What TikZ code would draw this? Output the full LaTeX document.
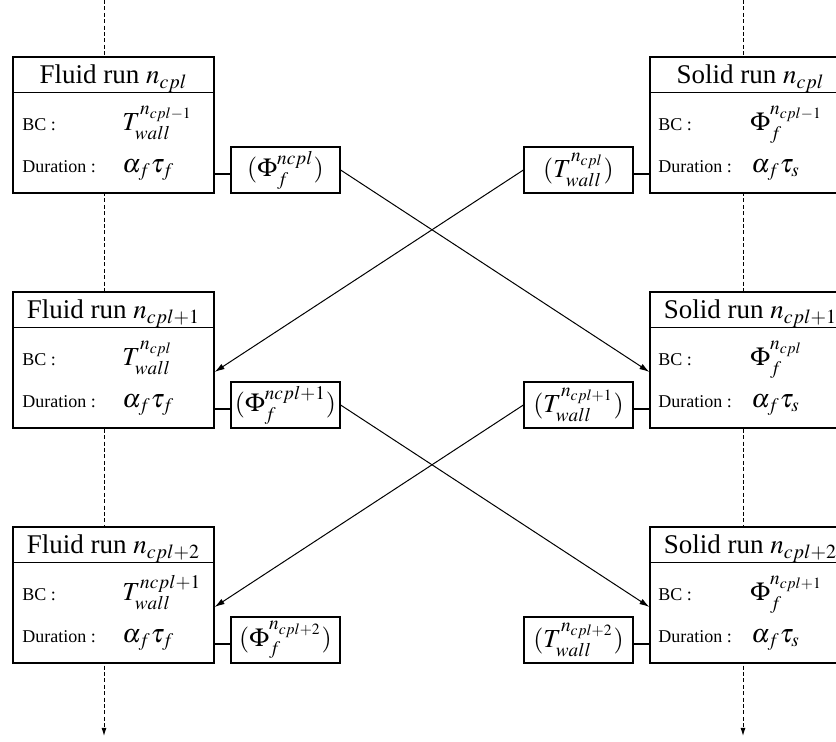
\documentclass[tikz,border=0pt]{standalone}
\usepackage{mathptmx}
\usepackage{fontspec}
\setmainfont{Liberation Serif}
\usetikzlibrary{arrows.meta,positioning}

\begin{document}
\begin{tikzpicture}[x=0.5pt, y=-0.5pt,
    run/.style={rectangle, draw, line width=0.6pt, fill=white,
        minimum width=100.5pt, minimum height=68pt, inner sep=0pt},
    runtitle/.style={anchor=base, inner sep=0pt, font=\fontsize{13.5}{16}\selectfont},
    lbl/.style={anchor=base west, inner sep=0pt, font=\fontsize{9}{11}\selectfont},
    val/.style={anchor=base west, inner sep=0pt, font=\fontsize{13}{15}\selectfont},
    xfer/.style={rectangle, draw, line width=0.6pt, fill=white,
        minimum width=54.5pt, minimum height=23pt, inner sep=0pt,
        font=\fontsize{13}{15}\selectfont},
    sep/.style={line width=0.6pt},
    arr/.style={-{Latex[length=5pt,width=3pt]}, line width=0.5pt},
    timeline/.style={dash pattern=on 2pt off 1.2pt, line width=0.5pt,
        -{Latex[length=4pt,width=2.5pt]}}]

    \useasboundingbox (0,0) rectangle (836,742);
    \clip (0,0) rectangle (836,742);

    % Time axes
    \coordinate (Ltop) at (104,0);
    \coordinate (Lbot) at (104,736);
    \coordinate (Rtop) at (743,0);
    \coordinate (Rbot) at (743,736);
    \draw[timeline] (Ltop) -- (Lbot);
    \draw[timeline] (Rtop) -- (Rbot);

    % Row 1
    \node[run] (F1) at (113.5,125) {};
    \node[runtitle] (F1t) at (113.5,84) {Fluid run $n_{cpl}$};
    \draw[sep] ([yshift=-18pt]F1.north west) -- ([yshift=-18pt]F1.north east);
    \node[lbl] (F1bc) at (22,131) {BC :};
    \node[val] (F1bcv) at (122,131) {$T^{n_{cpl-1}}_{wall}$};
    \node[lbl] (F1du) at (22,173) {Duration :};
    \node[val] (F1duv) at (122,173) {$\alpha_f\tau_f$};
    \node[xfer] (P1) at (285.5,170) {$(\Phi_f^{ncpl})$};

    \node[run] (S1) at (750.5,125) {};
    \node[runtitle] (S1t) at (750.5,84) {Solid run $n_{cpl}$};
    \draw[sep] ([yshift=-18pt]S1.north west) -- ([yshift=-18pt]S1.north east);
    \node[lbl] (S1bc) at (658,131) {BC :};
    \node[val] (S1bcv) at (750,131) {$\Phi^{n_{cpl-1}}_f$};
    \node[lbl] (S1du) at (658,173) {Duration :};
    \node[val] (S1duv) at (751,173) {$\alpha_f\tau_s$};
    \node[xfer] (T1) at (578.5,170) {$(T_{wall}^{n_{cpl}})$};

    % Row 2
    \node[run] (F2) at (113.5,360) {};
    \node[runtitle] (F2t) at (113.5,319) {Fluid run $n_{cpl+1}$};
    \draw[sep] ([yshift=-18pt]F2.north west) -- ([yshift=-18pt]F2.north east);
    \node[lbl] (F2bc) at (22,366) {BC :};
    \node[val] (F2bcv) at (122,366) {$T^{n_{cpl}}_{wall}$};
    \node[lbl] (F2du) at (22,408) {Duration :};
    \node[val] (F2duv) at (122,408) {$\alpha_f\tau_f$};
    \node[xfer] (P2) at (285.5,405) {$(\Phi_f^{ncpl+1})$};

    \node[run] (S2) at (750.5,360) {};
    \node[runtitle] (S2t) at (750.5,319) {Solid run $n_{cpl+1}$};
    \draw[sep] ([yshift=-18pt]S2.north west) -- ([yshift=-18pt]S2.north east);
    \node[lbl] (S2bc) at (658,366) {BC :};
    \node[val] (S2bcv) at (750,366) {$\Phi^{n_{cpl}}_f$};
    \node[lbl] (S2du) at (658,408) {Duration :};
    \node[val] (S2duv) at (751,408) {$\alpha_f\tau_s$};
    \node[xfer] (T2) at (578.5,405) {$(T_{wall}^{n_{cpl+1}})$};

    % Row 3
    \node[run] (F3) at (113.5,595) {};
    \node[runtitle] (F3t) at (113.5,554) {Fluid run $n_{cpl+2}$};
    \draw[sep] ([yshift=-18pt]F3.north west) -- ([yshift=-18pt]F3.north east);
    \node[lbl] (F3bc) at (22,601) {BC :};
    \node[val] (F3bcv) at (122,601) {$T^{ncpl+1}_{wall}$};
    \node[lbl] (F3du) at (22,643) {Duration :};
    \node[val] (F3duv) at (122,643) {$\alpha_f\tau_f$};
    \node[xfer] (P3) at (285.5,640) {$(\Phi_f^{n_{cpl+2}})$};

    \node[run] (S3) at (750.5,595) {};
    \node[runtitle] (S3t) at (750.5,554) {Solid run $n_{cpl+2}$};
    \draw[sep] ([yshift=-18pt]S3.north west) -- ([yshift=-18pt]S3.north east);
    \node[lbl] (S3bc) at (658,601) {BC :};
    \node[val] (S3bcv) at (750,601) {$\Phi^{n_{cpl+1}}_f$};
    \node[lbl] (S3du) at (658,643) {Duration :};
    \node[val] (S3duv) at (751,643) {$\alpha_f\tau_s$};
    \node[xfer] (T3) at (578.5,640) {$(T_{wall}^{n_{cpl+2}})$};

    % Short links
    \draw[sep] ([yshift=-2pt]P1.west) -- ([yshift=-2pt]P1.west -| F1.east);
    \draw[sep] ([yshift=-2pt]T1.east) -- ([yshift=-2pt]T1.east -| S1.west);
    \draw[sep] ([yshift=-2pt]P2.west) -- ([yshift=-2pt]P2.west -| F2.east);
    \draw[sep] ([yshift=-2pt]T2.east) -- ([yshift=-2pt]T2.east -| S2.west);
    \draw[sep] ([yshift=-2pt]P3.west) -- ([yshift=-2pt]P3.west -| F3.east);
    \draw[sep] ([yshift=-2pt]T3.east) -- ([yshift=-2pt]T3.east -| S3.west);

    % Exchanges
    \draw[arr] (P1.east) -- ([yshift=-6pt]S2.west);
    \draw[arr] (T1.west) -- ([yshift=-6pt]F2.east);
    \draw[arr] (P2.east) -- ([yshift=-6pt]S3.west);
    \draw[arr] (T2.west) -- ([yshift=-6pt]F3.east);
\end{tikzpicture}
\end{document}
